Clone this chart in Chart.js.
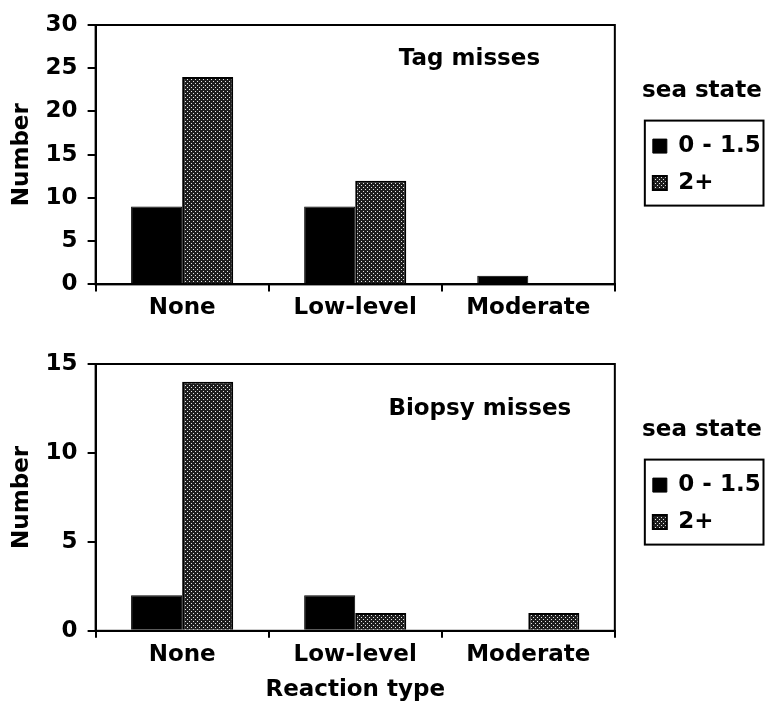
<!DOCTYPE html>
<html>
<head>
<meta charset="utf-8">
<script src="https://cdn.jsdelivr.net/npm/chart.js@4.4.1/dist/chart.umd.min.js"></script>
<style>
  html, body { margin: 0; padding: 0; background: #ffffff; }
  .box { position: relative; width: 765px; }
</style>
</head>
<body>
<div class="box" style="height:340px"><canvas id="tag"></canvas></div>
<div class="box" style="height:384px"><canvas id="biopsy"></canvas></div>
<script>
// ---- data ----
const categories = ['None', 'Low-level', 'Moderate'];
const seriesNames = ['0 - 1.5', '2+'];
const legendTitle = 'sea state';
const tagCalm = [9, 9, 1];
const tagRough = [24, 12, 0];
const biopsyCalm = [2, 2, 0];
const biopsyRough = [14, 1, 1];
const tagYTicks = [0, 5, 10, 15, 20, 25, 30];
const biopsyYTicks = [0, 5, 10, 15];
const yTitle = 'Number';
const xTitle = 'Reaction type';

const FONT = "'DejaVu Sans', 'Liberation Sans', Arial, sans-serif";
Chart.defaults.font.family = FONT;
Chart.defaults.font.weight = 'bold';
Chart.defaults.font.size = 23;
Chart.defaults.color = '#000';

function dotPattern() {
  const t = document.createElement('canvas');
  t.width = 4; t.height = 4;
  const c = t.getContext('2d');
  c.fillStyle = '#1e1e1e';
  c.fillRect(0, 0, 4, 4);
  c.fillStyle = '#e6e6e6';
  c.fillRect(1, 1, 1, 1);
  c.fillRect(3, 3, 1, 1);
  return c.createPattern(t, 'repeat');
}

const framePlugin = {
  id: 'frame',
  afterDraw(chart) {
    const a = chart.chartArea, ctx = chart.ctx;
    ctx.save();
    ctx.strokeStyle = '#000';
    ctx.lineWidth = 2;
    ctx.strokeRect(a.left, a.top, a.right - a.left, a.bottom - a.top);
    // legend border
    const lg = chart.legend;
    if (lg && lg.legendHitBoxes && lg.legendHitBoxes.length) {
      const hb = lg.legendHitBoxes;
      const first = hb[0], last = hb[hb.length - 1];
      const l = first.left - 8;
      const t = first.top - 14;
      const b = last.top + last.height + 11;
      const r = chart.width - 1.5;
      ctx.strokeRect(l, t, r - l, b - t);
    }
    ctx.restore();
  }
};

const notePlugin = {
  id: 'note',
  afterDatasetsDraw(chart, args, opts) {
    const a = chart.chartArea, ctx = chart.ctx;
    ctx.save();
    ctx.font = 'bold 23px ' + FONT;
    ctx.fillStyle = '#000';
    ctx.textAlign = 'center';
    ctx.textBaseline = 'middle';
    ctx.fillText(opts.text, a.left + opts.fx * (a.right - a.left), a.top + opts.fy * (a.bottom - a.top));
    ctx.restore();
  }
};

function makeChart(id, calm, rough, yTicks, note, showXTitle, pad) {
  const pattern = dotPattern();
  const yMax = yTicks[yTicks.length - 1];
  const yStep = yTicks[1] - yTicks[0];
  return new Chart(document.getElementById(id), {
    type: 'bar',
    data: {
      labels: categories,
      datasets: [
        { label: seriesNames[0], data: calm, backgroundColor: '#000', borderColor: '#000', borderWidth: 1,
          barPercentage: 1.0, categoryPercentage: 0.59 },
        { label: seriesNames[1], data: rough, backgroundColor: pattern, borderColor: '#000', borderWidth: 2,
          barPercentage: 1.0, categoryPercentage: 0.59 }
      ]
    },
    plugins: [framePlugin, notePlugin],
    options: {
      responsive: true,
      maintainAspectRatio: false,
      animation: false,
      layout: { padding: pad },
      plugins: {
        note: note,
        tooltip: { enabled: false },
        legend: {
          position: 'right',
          align: 'start',
          title: { display: true, text: legendTitle, color: '#000',
                   font: { size: 23, weight: 'bold' }, padding: { top: 55, bottom: 13 } },
          labels: { boxWidth: 14, boxHeight: 14, padding: 14, color: '#000',
                    font: { size: 23, weight: 'bold' } }
        }
      },
      scales: {
        x: {
          grid: { display: true, drawOnChartArea: false, drawTicks: true, tickLength: 7,
                  color: '#000', lineWidth: 2, offset: true },
          border: { display: true, color: '#000', width: 2 },
          ticks: { color: '#000', padding: 3, font: { size: 23, weight: 'bold' } },
          title: { display: showXTitle, text: xTitle, color: '#000',
                   font: { size: 23, weight: 'bold' }, padding: { top: 5, bottom: 0 } }
        },
        y: {
          min: 0, max: yMax,
          ticks: { stepSize: yStep, color: '#000', padding: 10, font: { size: 23, weight: 'bold' } },
          grid: { display: true, drawOnChartArea: false, tickLength: 8, color: '#000', lineWidth: 2 },
          border: { display: true, color: '#000', width: 2 },
          title: { display: true, text: yTitle, color: '#000',
                   font: { size: 23, weight: 'bold' }, padding: { top: 0, bottom: 0 } }
        },
        y2: {
          position: 'right', display: true,
          grid: { display: false }, ticks: { display: false }, border: { display: false },
          afterFit(s) { s.width = 24; }
        }
      }
    }
  });
}

makeChart('tag', tagCalm, tagRough, tagYTicks,
  { text: 'Tag misses', fx: 0.72, fy: 0.13 }, false,
  { left: 8, top: 25, right: 0, bottom: 15 });
makeChart('biopsy', biopsyCalm, biopsyRough, biopsyYTicks,
  { text: 'Biopsy misses', fx: 0.74, fy: 0.17 }, true,
  { left: 8, top: 24, right: 0, bottom: 20 });
</script>
</body>
</html>
